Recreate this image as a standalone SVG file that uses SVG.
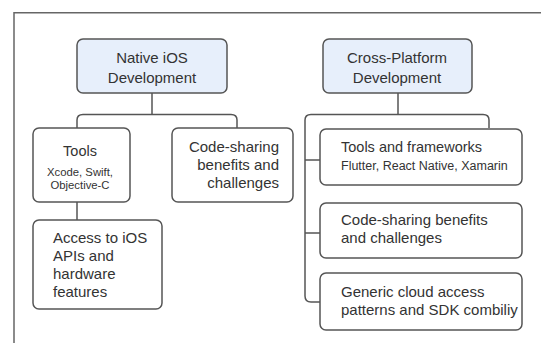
<svg xmlns="http://www.w3.org/2000/svg" width="541" height="343" viewBox="0 0 541 343">
<style>
.box{fill:#ffffff;stroke:#555;stroke-width:1.5}
.title{fill:#e7effb;stroke:#555;stroke-width:1.5}
.conn{fill:none;stroke:#555;stroke-width:1.5}
text{font-family:"Liberation Sans",Arial,sans-serif;fill:#333;font-size:15px}
.c{text-anchor:middle}
.e{text-anchor:end}
.s{font-size:12.5px}
.xs{font-size:11.3px}
</style>
<rect width="541" height="343" fill="#ffffff"/>
<path d="M14,343 V12.7 H541" fill="none" stroke="#666" stroke-width="1.5"/>
<g id="connectors">
<path class="conn" d="M152,93 V114.5"/>
<path class="conn" d="M77,128 V120 Q77,114.5 83,114.5 H231 Q237,114.5 237,120 V128"/>
<path class="conn" d="M77,202 V220"/>
<path class="conn" d="M398,93 V114.5"/>
<path class="conn" d="M489,128 V120 Q489,114.5 483,114.5 H311 Q305,114.5 305,120 V296 Q305,302 311,302 H320"/>
<path class="conn" d="M305,160 H320"/>
<path class="conn" d="M305,233 H320"/>
</g>
<g id="native">
<rect class="title" x="77" y="39" width="150" height="54" rx="6"/>
<text class="c" x="152" y="63">Native iOS</text>
<text class="c" x="152" y="83">Development</text>
</g>
<g id="cross">
<rect class="title" x="323" y="39" width="149" height="54" rx="6"/>
<text class="c" x="397" y="63">Cross-Platform</text>
<text class="c" x="397" y="83">Development</text>
</g>
<g id="tools">
<rect class="box" x="33" y="128" width="97" height="74" rx="6"/>
<text class="c" x="80" y="156" style="font-size:14.5px">Tools</text>
<text class="c xs" x="80" y="176">Xcode, Swift,</text>
<text class="c xs" x="80" y="189">Objective-C</text>
</g>
<g id="codeshare-left">
<rect class="box" x="172" y="128" width="121" height="74" rx="6"/>
<text class="e" x="279" y="152">Code-sharing</text>
<text class="e" x="279" y="170">benefits and</text>
<text class="e" x="279" y="188">challenges</text>
</g>
<g id="access">
<rect class="box" x="33" y="220" width="129" height="89" rx="6"/>
<text x="53" y="243">Access to iOS</text>
<text x="53" y="261">APIs and</text>
<text x="53" y="279">hardware</text>
<text x="53" y="297">features</text>
</g>
<g id="tools-frameworks">
<rect class="box" x="320" y="129" width="202" height="56" rx="6"/>
<text x="341" y="152" style="font-size:14.5px">Tools and frameworks</text>
<text class="s" x="341" y="170">Flutter, React Native, Xamarin</text>
</g>
<g id="codeshare-right">
<rect class="box" x="320" y="203" width="202" height="55" rx="6"/>
<text x="341" y="225">Code-sharing benefits</text>
<text x="341" y="243">and challenges</text>
</g>
<g id="generic">
<rect class="box" x="320" y="273" width="202" height="57" rx="6"/>
<text x="341" y="297">Generic cloud access</text>
<text x="341" y="315">patterns and SDK combiliy</text>
</g>
</svg>
